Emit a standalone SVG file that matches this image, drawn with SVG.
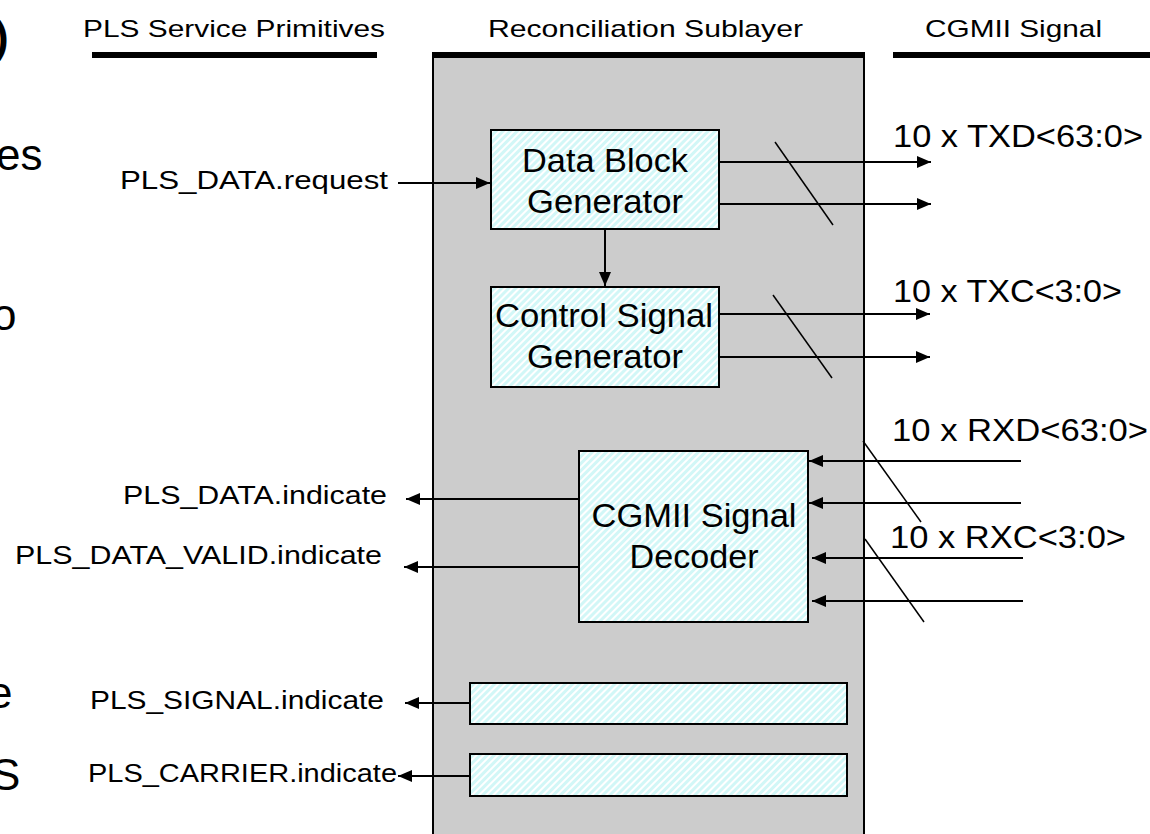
<svg xmlns="http://www.w3.org/2000/svg" width="1150" height="834" viewBox="0 0 1150 834">
<style>
  text { font-family: "Liberation Sans", Arial, sans-serif; fill: #000; }
  .hdr { font-size: 24px; }
  .lbl { font-size: 25px; }
  .big { font-size: 33px; }
  .sig { font-size: 32px; }
  .edge { font-size: 44px; }
  .box { fill: url(#hatch); stroke: #000; stroke-width: 2; }
  .wire { stroke: #000; stroke-width: 2; fill: none; }
  .arr { marker-end: url(#ah); }
  .slash { stroke: #000; stroke-width: 1.5; fill: none; }
  .bar { stroke: #000; stroke-width: 6; }
</style>
<defs>
  <pattern id="hatch" width="5" height="5" patternUnits="userSpaceOnUse" patternTransform="rotate(45)">
    <rect width="5" height="5" fill="#d2f7f7"/>
    <rect width="2" height="5" fill="#ffffff"/>
  </pattern>
  <marker id="ah" markerUnits="userSpaceOnUse" markerWidth="14" markerHeight="12" refX="14" refY="6" orient="auto">
    <path d="M0,0 L14,6 L0,12 z" fill="#000"/>
  </marker>
</defs>
<rect width="1150" height="834" fill="#ffffff"/>

<!-- clipped slide text at left edge -->
<g id="edge-text">
  <text class="edge" x="-6" y="52" font-weight="bold" font-size="52">)</text>
  <text class="edge" x="-4" y="170">es</text>
  <text class="edge" x="-8" y="330">o</text>
  <text class="edge" x="-12" y="708">e</text>
  <text class="edge" x="-9" y="790">S</text>
</g>

<!-- headers -->
<g id="header-pls">
  <text class="hdr" x="83" y="37" textLength="302" lengthAdjust="spacingAndGlyphs">PLS Service Primitives</text>
  <line class="bar" x1="92" y1="55" x2="377" y2="55"/>
</g>
<g id="header-cgmii">
  <text class="hdr" x="925" y="37" textLength="177" lengthAdjust="spacingAndGlyphs">CGMII Signal</text>
  <line class="bar" x1="893" y1="55" x2="1150" y2="55"/>
</g>

<!-- reconciliation sublayer -->
<g id="rs">
  <text class="hdr" x="488" y="37" textLength="315" lengthAdjust="spacingAndGlyphs">Reconciliation Sublayer</text>
  <rect x="433" y="55" width="431" height="800" fill="#cccccc" stroke="#000" stroke-width="2"/>
  <line class="bar" x1="432" y1="55" x2="865" y2="55"/>
</g>

<g id="data-block-generator">
  <rect class="box" x="491" y="130" width="228" height="99"/>
  <text class="big" x="605" y="172" text-anchor="middle" textLength="166" lengthAdjust="spacingAndGlyphs">Data Block</text>
  <text class="big" x="605" y="213" text-anchor="middle" textLength="156" lengthAdjust="spacingAndGlyphs">Generator</text>
</g>

<g id="control-signal-generator">
  <rect class="box" x="491" y="287" width="228" height="100"/>
  <text class="big" x="604" y="327" text-anchor="middle" textLength="218" lengthAdjust="spacingAndGlyphs">Control Signal</text>
  <text class="big" x="605" y="368" text-anchor="middle" textLength="156" lengthAdjust="spacingAndGlyphs">Generator</text>
</g>

<g id="cgmii-signal-decoder">
  <rect class="box" x="579" y="451" width="229" height="171"/>
  <text class="big" x="694" y="527" text-anchor="middle" textLength="205" lengthAdjust="spacingAndGlyphs">CGMII Signal</text>
  <text class="big" x="694" y="568" text-anchor="middle" textLength="129" lengthAdjust="spacingAndGlyphs">Decoder</text>
</g>

<g id="signal-box">
  <rect class="box" x="470" y="683" width="377" height="41"/>
</g>
<g id="carrier-box">
  <rect class="box" x="470" y="754" width="377" height="42"/>
</g>

<!-- primitive labels -->
<g id="labels">
  <text class="lbl" x="120" y="189" textLength="268" lengthAdjust="spacingAndGlyphs">PLS_DATA.request</text>
  <text class="lbl" x="123" y="504" textLength="264" lengthAdjust="spacingAndGlyphs">PLS_DATA.indicate</text>
  <text class="lbl" x="15" y="564" textLength="367" lengthAdjust="spacingAndGlyphs">PLS_DATA_VALID.indicate</text>
  <text class="lbl" x="90" y="709" textLength="294" lengthAdjust="spacingAndGlyphs">PLS_SIGNAL.indicate</text>
  <text class="lbl" x="88" y="782" textLength="309" lengthAdjust="spacingAndGlyphs">PLS_CARRIER.indicate</text>
  <text class="sig" x="893" y="147" textLength="250" lengthAdjust="spacingAndGlyphs">10 x TXD&lt;63:0&gt;</text>
  <text class="sig" x="893" y="302" textLength="229" lengthAdjust="spacingAndGlyphs">10 x TXC&lt;3:0&gt;</text>
  <text class="sig" x="892" y="441" textLength="256" lengthAdjust="spacingAndGlyphs">10 x RXD&lt;63:0&gt;</text>
  <text class="sig" x="890" y="548" textLength="236" lengthAdjust="spacingAndGlyphs">10 x RXC&lt;3:0&gt;</text>
</g>

<!-- connectors -->
<g id="connectors">
  <line class="wire arr" x1="398" y1="183" x2="490" y2="183"/>
  <line class="wire arr" x1="605" y1="229" x2="605" y2="286"/>
  <line class="wire arr" x1="719" y1="162" x2="931" y2="162"/>
  <line class="wire arr" x1="719" y1="204" x2="931" y2="204"/>
  <line class="slash" x1="775" y1="142" x2="833" y2="225"/>
  <line class="wire arr" x1="719" y1="314" x2="930" y2="314"/>
  <line class="wire arr" x1="719" y1="357" x2="930" y2="357"/>
  <line class="slash" x1="773" y1="295" x2="832" y2="378"/>
  <line class="wire arr" x1="1021" y1="461" x2="809" y2="461"/>
  <line class="wire arr" x1="1021" y1="503" x2="809" y2="503"/>
  <line class="wire arr" x1="1023" y1="558" x2="812" y2="558"/>
  <line class="wire arr" x1="1023" y1="601" x2="812" y2="601"/>
  <line class="slash" x1="863" y1="441" x2="921" y2="522"/>
  <line class="slash" x1="865" y1="539" x2="924" y2="622"/>
  <line class="wire arr" x1="579" y1="499" x2="406" y2="499"/>
  <line class="wire arr" x1="579" y1="567" x2="404" y2="567"/>
  <line class="wire arr" x1="470" y1="703" x2="405" y2="703"/>
  <line class="wire arr" x1="470" y1="776" x2="398" y2="776"/>
</g>
</svg>
